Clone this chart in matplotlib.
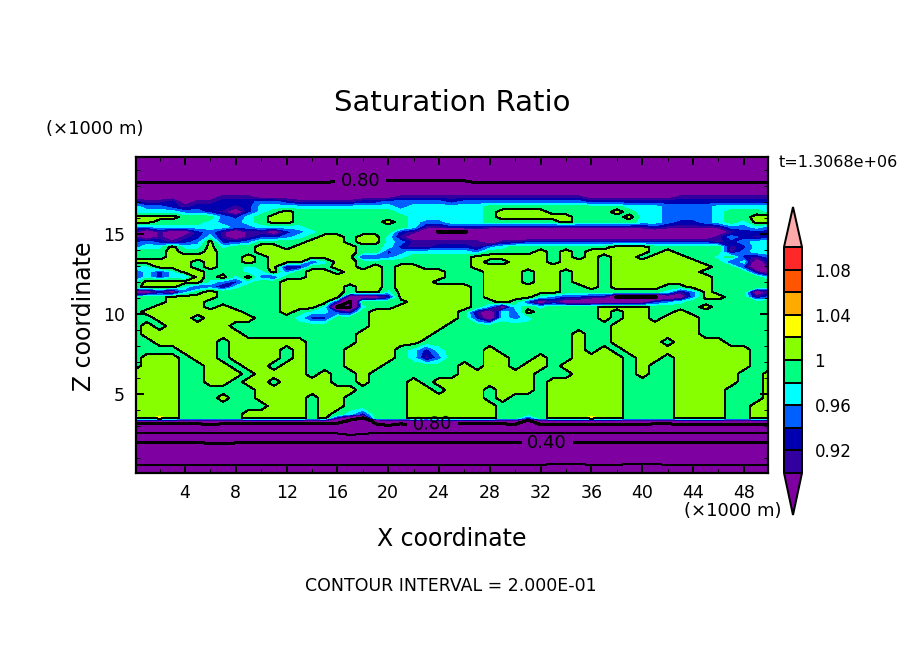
import numpy as np
import matplotlib
matplotlib.use("Agg")
import matplotlib.pyplot as plt

W, H = 904, 654

# saturation ratio in hundredths, one list per height
x_km = list(range(51))
z_km = [19.81, 19.0, 18.19, 17.75, 17.31, 17.0, 16.69, 16.38, 16.06, 15.75, 15.44, 15.13,
        14.81, 14.5, 14.19, 13.88, 13.56, 13.25, 12.94, 12.63, 12.31, 12.0, 11.69, 11.38,
        11.06, 10.75, 10.44, 10.13, 9.75, 9.25, 8.75, 8.25, 7.75, 7.25, 6.75, 6.25, 5.75,
        5.25, 4.75, 4.25, 3.75, 3.5, 3.31, 3.13, 2.56, 1.94, 0.56, 0.06]

s1981 = [70]*51
s1900 = [75]*51
s1819 = [80,80,80,80,80,80,80,80,80,80, 80,80,80,80,80,80,81,81,81,81, 81,81,81,81,81,81,81,80,80,80, 80,80,80,80,80,80,80,80,80,80, 80,80,80,80,80,80,80,80,80,80, 80]
s1775 = [85,85,85,85,85,85,85,86,86,86, 85,85,85,85,85,85,85,85,85,85, 85,85,86,86,86,86,86,86,86,86, 86,86,86,86,86,85,85,85,85,85, 85,85,85,85,85,85,85,85,85,85, 85]
s1731 = [88,88,88,88,88,88,88,91,91,91, 88,88,88,88,88,88,88,88,88,88, 88,91,91,91,91,91,91,91,91,91, 91,91,91,91,91,91,88,88,88,88, 88,88,88,91,91,91,91,91,91,91, 91]
s1700 = [93,91,91,93,88,91,91,93,93,93, 95,95,93,91,91,91,91,91,93,93, 95,95,95,95,95,93,95,95,95,95, 95,95,95,95,95,95,93,93,93,93, 93,93,93,93,93,93,93,93,93,93, 93]
s1669 = [97,95,95,93,91,93,93,93,91,93, 97,97,97,97,97,97,97,97,97,97, 97,95,97,97,97,97,97,97,99,99, 99,99,99,99,99,99,99,99,99,97, 97,97,95,95,95,95,97,97,97,97, 97]
s1638 = [97,97,97,97,95,95,93,91,86,93, 97,99,101,99,99,99,99,99,99,99, 99,97,97,97,97,97,97,97,99,101, 101,101,101,99,99,99,99,99,101,99, 97,97,95,95,95,95,97,99,99,99, 97]
s1606 = [101,101,101,101,99,99,99,95,93,97, 99,101,101,99,99,99,99,99,99,99, 99,99,97,97,97,97,97,97,99,101, 101,101,101,101,101,99,99,99,99,101, 97,97,95,95,95,95,97,99,99,101, 101]
s1575 = [101,101,99,99,99,99,97,95,95,97, 99,101,101,99,99,99,99,99,99,99, 101,99,97,95,95,97,97,97,99,99, 99,99,99,99,101,99,99,99,99,99, 97,97,95,93,93,95,97,99,97,101, 101]
s1544 = [95,95,97,97,97,97,97,97,95,95, 97,97,97,97,99,99,99,99,99,99, 99,99,97,91,91,93,93,93,91,91, 91,91,91,91,91,91,91,91,91,91, 91,93,91,91,91,91,91,95,95,97, 95]
s1513 = [91,86,91,86,86,93,95,91,86,91, 91,86,93,95,97,99,99,99,99,99, 99,93,91,86,79,79,79,84,86,86, 86,86,86,86,86,86,86,86,86,86, 86,86,86,86,86,86,86,91,93,93, 93]
s1481 = [91,86,91,86,91,93,97,91,86,91, 93,93,95,97,99,101,101,99,101,101, 97,91,86,86,86,86,86,86,86,86, 86,86,86,86,86,86,86,86,86,86, 86,86,86,86,86,86,91,95,93,91, 93]
s1450 = [93,95,93,91,93,95,101,93,93,95, 99,99,99,99,101,101,101,99,101,101, 97,95,91,91,91,91,91,91,86,91, 91,93,93,93,93,93,93,93,93,93, 93,93,93,93,93,93,91,93,95,97, 97]
s1419 = [95,97,97,101,97,97,101,97,99,99, 101,101,99,101,101,101,101,101,99,99, 97,93,91,91,93,93,93,91,95,97, 99,99,99,99,99,99,99,99,101,101, 101,99,99,99,99,99,99,91,93,97, 97]
s1388 = [99,99,99,101,99,99,101,99,99,99, 101,101,101,101,101,101,101,101,99,99, 93,95,97,97,97,97,97,95,99,99, 99,99,101,99,101,99,101,101,101,101, 101,99,101,99,99,99,99,91,95,97, 97]
s1356 = [99,99,99,101,101,101,101,99,99,101, 99,101,101,101,101,101,101,101,93,93, 95,97,99,99,99,99,99,101,101,101, 101,101,101,99,101,99,101,99,101,101, 99,101,101,101,99,99,97,99,93,91, 95]
s1325 = [101,101,101,101,101,99,101,99,99,101, 99,101,101,101,93,97,101,101,99,99, 99,99,99,99,99,99,99,101,99,99, 101,101,101,99,101,101,101,99,101,101, 101,101,101,101,101,99,99,93,97,86, 93]
s1294 = [97,97,101,101,101,99,101,99,99,97, 99,101,91,91,99,99,101,101,99,101, 99,101,101,99,99,99,99,101,101,101, 101,101,101,101,101,101,101,99,101,101, 101,101,101,101,101,101,99,99,93,86, 91]
s1263 = [93,97,93,97,101,101,99,99,99,97, 97,101,95,99,101,101,99,101,101,101, 99,101,101,101,101,99,99,99,101,101, 101,99,101,101,99,101,101,99,101,101, 101,101,101,101,101,99,99,99,99,91, 86]
s1231 = [93,97,93,97,95,101,99,101,97,101, 95,93,99,99,101,101,101,101,101,101, 99,101,101,101,101,99,99,99,101,101, 101,99,101,101,99,101,101,99,101,101, 101,101,101,101,101,101,99,99,99,99, 95]
s1200 = [97,101,101,101,101,101,97,95,93,97, 99,99,101,101,101,101,101,101,101,101, 99,101,101,101,99,99,99,99,101,101, 101,99,101,101,99,101,101,99,101,101, 101,101,101,101,101,101,99,99,99,99, 99]
s1169 = [99,101,101,101,97,93,95,91,97,99, 99,99,101,101,101,101,101,99,101,101, 99,101,101,101,101,101,101,99,101,101, 101,101,101,101,99,99,101,99,101,101, 101,101,99,99,101,101,99,99,99,99, 99]
s1138 = [86,86,91,86,95,99,101,99,99,99, 99,99,101,101,101,101,101,99,101,101, 97,101,101,101,101,101,101,99,101,101, 101,101,101,101,99,99,99,99,99,99, 99,99,97,91,95,101,99,99,99,86, 91]
s1106 = [97,99,99,101,101,101,101,99,99,99, 99,99,101,101,101,101,101,86,86,86, 91,101,101,101,101,101,101,99,101,101, 101,101,97,95,93,93,91,91,79,79, 79,79,86,86,95,101,101,99,99,91, 95]
s1075 = [99,99,99,101,101,101,99,99,99,99, 99,99,101,101,101,101,91,79,99,99, 99,99,101,101,101,101,101,99,99,101, 99,93,86,91,86,86,86,86,86,86, 86,93,95,97,99,99,99,99,99,99, 99]
s1044 = [99,99,101,101,101,101,99,101,99,99, 99,99,101,101,101,97,79,79,97,99, 99,101,101,101,101,101,101,99,95,86, 97,99,97,99,99,99,99,101,101,101, 101,99,99,99,99,101,99,99,99,99, 99]
s1013 = [99,101,101,101,101,101,101,101,101,99, 99,99,101,99,97,97,93,91,99,101, 101,101,101,101,101,101,99,91,86,97, 95,101,99,99,99,99,99,101,99,101, 101,99,99,101,99,99,99,99,99,99, 99]
s0975 = [99,99,101,101,101,99,101,101,101,101, 99,99,99,97,93,93,99,99,99,101, 101,101,101,101,101,101,99,93,86,97, 95,97,99,99,99,99,99,101,99,101, 101,99,101,101,101,99,99,99,99,99, 99]
s0925 = [99,101,99,101,101,101,101,101,99,99, 99,99,99,99,99,99,99,99,99,101, 101,101,101,101,101,99,99,99,99,99, 99,99,99,99,99,99,99,99,101,101, 101,101,101,101,101,99,99,99,99,99, 99]
s0875 = [99,101,101,101,101,101,101,101,101,99, 99,99,99,99,99,99,99,99,101,101, 101,101,101,101,99,99,99,99,99,99, 99,99,99,99,99,101,99,99,101,101, 101,101,101,101,101,99,99,99,99,99, 99]
s0825 = [99,99,101,101,101,101,101,99,101,101, 101,101,101,101,99,99,99,99,101,101, 101,101,101,99,99,99,99,99,99,99, 99,99,99,99,99,101,99,99,101,101, 101,101,99,101,101,101,101,99,99,99, 99]
s0775 = [99,99,99,99,101,101,101,99,101,101, 101,101,99,101,99,99,99,101,101,101, 101,99,97,93,97,99,99,99,101,99, 99,99,99,99,99,101,99,101,99,101, 101,101,101,101,101,101,101,101,101,99, 99]
s0725 = [99,101,101,101,99,101,101,99,101,101, 101,101,99,101,99,99,99,101,101,101, 101,99,97,91,95,99,99,99,101,101, 99,99,101,99,99,101,101,101,101,99, 101,101,99,101,101,101,101,101,101,99, 99]
s0675 = [99,101,101,101,99,99,101,101,99,101, 101,99,101,101,99,99,99,101,101,101, 99,99,99,99,99,99,101,99,101,101, 99,101,101,99,101,101,101,101,101,99, 101,99,99,101,101,101,101,101,101,99, 99]
s0625 = [101,101,101,101,99,99,101,101,101,99, 101,101,101,101,99,101,99,99,101,99, 99,99,99,99,99,99,101,101,101,101, 101,101,99,99,99,101,101,101,101,99, 101,99,99,101,101,101,101,101,99,99, 101]
s0575 = [101,101,101,101,99,99,101,101,99,101, 101,99,101,101,101,101,99,99,101,99, 99,99,101,99,101,101,101,101,101,101, 101,101,99,101,101,101,101,101,101,99, 99,99,99,101,101,101,101,101,99,99, 101]
s0525 = [101,101,101,101,99,99,99,99,99,99, 101,101,101,101,101,101,101,101,99,99, 99,99,101,101,99,101,101,101,99,101, 101,101,99,101,101,101,101,101,101,99, 99,99,99,101,101,101,101,99,99,99, 101]
s0475 = [101,101,101,101,99,99,99,101,99,99, 101,101,101,101,99,101,101,99,99,99, 99,99,101,101,101,101,101,101,99,101, 99,99,99,101,101,101,101,101,101,99, 99,99,99,101,101,101,101,99,99,99, 101]
s0425 = [101,101,101,101,99,99,99,99,99,99, 99,101,101,101,99,101,101,99,99,99, 99,99,101,101,101,101,101,101,101,99, 99,99,99,101,101,101,101,101,101,99, 99,99,99,101,101,101,101,99,99,101, 101]
s0375 = [101,101,101,101,99,99,99,99,99,101, 101,101,101,101,99,101,99,97,93,99, 99,99,101,101,101,101,101,101,101,99, 99,99,99,101,101,101,101,101,101,99, 99,99,99,101,101,101,101,99,99,101, 101]
s0350 = [103,101,103,101,99,99,99,99,99,101, 101,101,101,101,99,101,91,85,80,99, 99,99,101,101,101,101,101,101,101,99, 99,93,99,101,101,101,103,101,101,99, 99,99,99,101,101,101,101,99,99,101, 101]
s0331 = [88,88,88,88,88,88,88,88,88,88, 88,88,88,88,88,88,86,78,70,84, 88,86,88,86,88,88,88,88,88,88, 88,78,88,88,88,88,88,88,88,88, 88,88,88,88,88,88,88,88,88,88, 88]
s0313 = [80,80,80,80,80,80,81,80,80,80, 80,80,80,80,80,79,78,72,68,80, 84,80,84,82,80,80,80,80,80,80, 81,70,82,82,81,81,81,81,81,81, 81,80,80,81,81,81,82,81,81,82, 82]
s0256 = [60,60,60,60,60,60,60,60,60,60, 60,60,60,60,60,60,61,65,62,60, 60,60,60,60,60,60,60,60,60,60, 60,60,60,60,60,60,60,60,60,60, 60,60,60,60,60,60,60,60,60,60, 60]
s0194 = [40,40,40,40,39,39,41,41,40,40, 40,40,40,40,40,40,40,39,40,40, 40,40,40,40,40,40,40,40,40,40, 40,40,40,40,40,40,40,40,39,39, 39,39,40,40,40,40,40,40,40,40, 40]
s0056 = [20,20,20,20,20,20,20,20,20,20, 20,20,20,20,20,20,20,20,20,20, 20,20,20,20,20,20,20,20,20,20, 20,20,20,19,19,19,20,20,20,19, 19,19,20,20,20,20,20,20,20,20, 20]
s0006 = [15]*51

sat_rows = [s1981, s1900, s1819, s1775, s1731, s1700, s1669, s1638, s1606, s1575, s1544, s1513,
            s1481, s1450, s1419, s1388, s1356, s1325, s1294, s1263, s1231, s1200, s1169, s1138,
            s1106, s1075, s1044, s1013, s0975, s0925, s0875, s0825, s0775, s0725, s0675, s0625, s0575,
            s0525, s0475, s0425, s0375, s0350, s0331, s0313, s0256, s0194, s0056, s0006]

fill_levels = [0.90, 0.92, 0.94, 0.96, 0.98, 1.00, 1.02, 1.04, 1.06, 1.08, 1.10]
fill_colors = ['#7f00a0', '#3300a0', '#0000b0', '#0060ff', '#00ffff', '#00ff80',
               '#88ff00', '#ffff00', '#ffaa00', '#ff5500', '#ff2828', '#ffaaaa']
thin_levels = [0.2, 0.6, 1.0]
thick_levels = [0.4, 0.8]
bar_ticks = [0.92, 0.96, 1.00, 1.04, 1.08]
bar_labels = ['0.92', '0.96', '1', '1.04', '1.08']


def fx(px):
    return px / W


def fy(py):
    return 1 - py / H


field = np.array(sat_rows) / 100.0

fig = plt.figure(figsize=(W / 100, H / 100), dpi=100)
ax = fig.add_axes([fx(136), fy(473), (768 - 136) / W, (473 - 157) / H])

cf = ax.contourf(x_km, z_km, field, levels=fill_levels, colors=fill_colors, extend='both', antialiased=False)
# one pixel is 0.72 pt at this dpi
ax.contour(x_km, z_km, field, levels=thin_levels, colors='k', linewidths=0.72, antialiased=False)
thick = ax.contour(x_km, z_km, field, levels=thick_levels, colors='k', linewidths=1.44, antialiased=False)
ax.clabel(thick, fmt='%.2f', fontsize=13, inline=True, inline_spacing=6,
          manual=[(17.8, 18.1), (23.5, 3.1), (32.5, 1.9)])

ax.set_xlim(0.14, 49.9)
ax.set_ylim(0.06, 19.81)
ax.set_xticks(np.arange(4, 49, 4))
ax.set_xticks(np.arange(2, 50, 2), minor=True)
ax.set_yticks([5, 10, 15])
ax.set_yticks(np.arange(1, 20), minor=True)
ax.tick_params(which='major', direction='in', length=6, width=1.44, top=True, right=True, labelsize=12.5, pad=8)
ax.tick_params(which='minor', direction='in', length=3, width=0.72, top=True, right=True)
for sp in ax.spines.values():
    sp.set_linewidth(1.6)

fig.text(fx(452), fy(103), 'Saturation Ratio', fontsize=21, ha='center', va='center')
fig.text(fx(95), fy(129), '(\u00d71000 m)', fontsize=13, ha='center', va='center')
fig.text(fx(733), fy(511), '(\u00d71000 m)', fontsize=13, ha='center', va='center')
fig.text(fx(838), fy(162), 't=1.3068e+06', fontsize=11.5, ha='center', va='center')
fig.text(fx(84), fy(316), 'Z coordinate', fontsize=17, rotation=90, ha='center', va='center')
fig.text(fx(452), fy(539), 'X coordinate', fontsize=17, ha='center', va='center')
fig.text(fx(451), fy(586), 'CONTOUR INTERVAL = 2.000E-01', fontsize=12.5, ha='center', va='center')

# the bar axes includes both end points, the boxes take 247..473
cax = fig.add_axes([fx(784), fy(515), (802 - 784) / W, (515 - 207) / H])
cbar = fig.colorbar(cf, cax=cax, extend='both', extendfrac=[0.186, 0.177], drawedges=True, ticks=bar_ticks)
cbar.ax.set_yticklabels(bar_labels)
cbar.ax.tick_params(length=0, labelsize=12, pad=9)
cbar.ax.minorticks_off()
cbar.outline.set_linewidth(1.44)
cbar.dividers.set_linewidth(1.44)
cbar.dividers.set_color('k')

fig.savefig('out.png', dpi=100)
